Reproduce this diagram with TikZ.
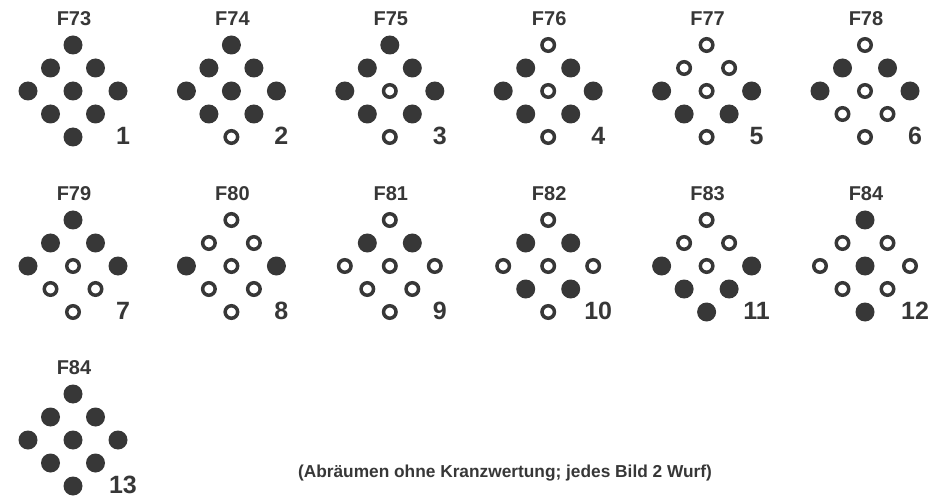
\documentclass[tikz,border=0pt]{standalone}
\usepackage{fontspec}
\setmainfont{Liberation Sans}
\usetikzlibrary{positioning}
\definecolor{pingray}{RGB}{55,55,55}

\tikzset{
  kegel1/.style={circle, fill=pingray, inner sep=0pt, minimum size=19pt},
  kegel0/.style={circle, draw=pingray, line width=3.5pt, inner sep=0pt, minimum size=12.5pt},
  figlabel/.style={text=pingray, font=\fontsize{20}{20}\selectfont\bfseries},
  picnum/.style={text=pingray, font=\fontsize{25}{25}\selectfont\bfseries},
  caption/.style={text=pingray, font=\fontsize{17.3}{17.3}\selectfont\bfseries},
}

\begin{document}
\begin{tikzpicture}[x=1pt, y=-1pt]
    \useasboundingbox (0,0) rectangle (937,497);

    % group / label / centre x / top pin y / pins (1 = standing)
    \foreach \g/\lab/\cx/\ty/\pat in {
        1/F73/73/45/{1,1,1,1,1,1,1,1,1},
        2/F74/231.4/45/{1,1,1,1,1,1,1,1,0},
        3/F75/389.8/45/{1,1,1,1,0,1,1,1,0},
        4/F76/548.2/45/{0,1,1,1,0,1,1,1,0},
        5/F77/706.6/45/{0,0,0,1,0,1,1,1,0},
        6/F78/865/45/{0,1,1,1,0,1,0,0,0},
        7/F79/73/220/{1,1,1,1,0,1,0,0,0},
        8/F80/231.4/220/{0,0,0,1,0,1,0,0,0},
        9/F81/389.8/220/{0,1,1,0,0,0,0,0,0},
        10/F82/548.2/220/{0,1,1,0,0,0,1,1,0},
        11/F83/706.6/220/{0,0,0,1,0,1,1,1,1},
        12/F84/865/220/{1,0,0,0,1,0,0,0,1},
        13/F84/73/394/{1,1,1,1,1,1,1,1,1}}{
        \node[figlabel] (f\g) at (\cx+1,\ty-26.5) {\lab};
        \foreach \dx/\dy [count=\k] in {0/0,-22.5/23,22.5/23,-45/46,0/46,45/46,-22.5/69,22.5/69,0/92}{
            \pgfmathtruncatemacro\on{{\pat}[\k-1]}
            \node[kegel\on] (g\g-\k) at (\cx+\dx,\ty+\dy) {};
        }
        \node[picnum] (n\g) at (\cx+50,\ty+91) {\g};
    }

    \node[caption] (cap) at (505,473) {(Abräumen ohne Kranzwertung; jedes Bild 2 Wurf)};
\end{tikzpicture}
\end{document}
